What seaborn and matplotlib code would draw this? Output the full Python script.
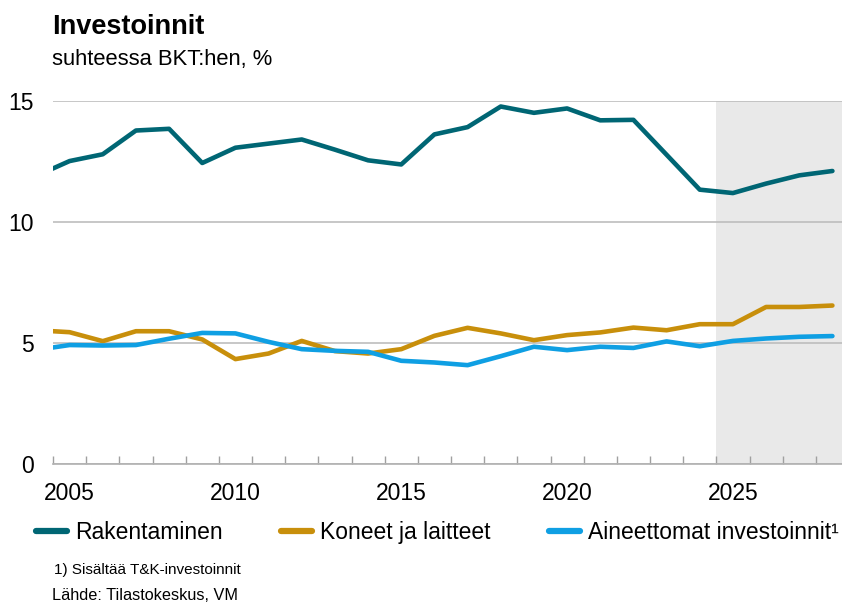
import numpy as np
import pandas as pd
import matplotlib
matplotlib.use("Agg")
import matplotlib.pyplot as plt
import seaborn as sns

# Values (% of GDP)
years = list(range(2004, 2029))
rakentaminen = [11.9, 12.51, 12.79, 13.77, 13.84, 12.43, 13.06, 13.23, 13.40, 12.98,
                12.54, 12.37, 13.61, 13.91, 14.76, 14.50, 14.68, 14.19, 14.21, 12.77,
                11.33, 11.19, 11.58, 11.92, 12.10]
koneet = [5.53, 5.45, 5.08, 5.49, 5.49, 5.15, 4.34, 4.57, 5.09, 4.67,
          4.57, 4.75, 5.30, 5.63, 5.40, 5.12, 5.33, 5.44, 5.64, 5.53,
          5.78, 5.78, 6.49, 6.49, 6.55]
aineettomat = [4.72, 4.92, 4.90, 4.92, 5.18, 5.42, 5.40, 5.05, 4.75, 4.68,
               4.64, 4.27, 4.20, 4.09, 4.46, 4.85, 4.71, 4.85, 4.80, 5.07,
               4.87, 5.09, 5.19, 5.26, 5.29]
series_names = ["Rakentaminen", "Koneet ja laitteet", "Aineettomat investoinnit\u00b9"]
colors = ["#006674", "#C88F0B", "#0F9FE3"]
forecast_start = 2025
tick_years = [2005, 2010, 2015, 2020, 2025]
y_ticks = [0, 5, 10, 15]

df = pd.DataFrame({"vuosi": years * 3,
                   "arvo": rakentaminen + koneet + aineettomat,
                   "sarja": [n for n in series_names for _ in years]})

sns.set_style("white")
plt.rcParams["font.family"] = ["Liberation Sans", "DejaVu Sans"]
plt.rcParams["text.color"] = "black"
plt.rcParams["xtick.color"] = "black"
plt.rcParams["ytick.color"] = "black"

fig = plt.figure(figsize=(8.42, 6.06), dpi=100)
ax = fig.add_axes([53 / 842, 141.7 / 606, 796 / 842, 363.6 / 606])

# forecast shading
ax.axvspan(forecast_start - 0.5, years[-1] + 0.5, color="#E9E9E9", zorder=0, lw=0)

sns.lineplot(data=df, x="vuosi", y="arvo", hue="sarja", palette=colors,
             linewidth=3.3, ax=ax, zorder=3)
for ln in ax.get_lines():
    ln.set_solid_capstyle("round")
    ln.set_solid_joinstyle("round")

ax.set_xlim(years[0] + 0.5, years[-1] + 0.5)
ax.set_ylim(0, 15)
ax.set_yticks(y_ticks)
ax.set_xticks(tick_years)
ax.set_xticks(np.arange(years[0] + 0.5, years[-1] + 1), minor=True)
ax.set_xlabel("")
ax.set_ylabel("")

for s in ["top", "right", "left"]:
    ax.spines[s].set_visible(False)
ax.spines["bottom"].set_color("#B0B0B0")
ax.spines["bottom"].set_linewidth(1.2)
ax.yaxis.grid(True, color="#BDBDBD", linewidth=1.2)
for gl in ax.get_ygridlines():
    gl.set_zorder(1)

ax.tick_params(axis="y", length=0, pad=14, labelsize=16.5, labelcolor="black")
ax.tick_params(axis="x", which="major", length=0, pad=13, labelsize=16.5,
               labelcolor="black")
ax.tick_params(axis="x", which="minor", bottom=True, direction="in", length=6,
               width=1, color="#A0A0A0")

handles, labels = ax.get_legend_handles_labels()
ax.get_legend().remove()
leg = fig.legend(handles, labels, loc="center left", bbox_to_anchor=(0.043, 0.122),
                 ncol=3, frameon=False, fontsize=16.5, handlelength=1.35,
                 handletextpad=0.35, columnspacing=2.55, borderaxespad=0,
                 borderpad=0, labelcolor="black")
for h in leg.get_lines():
    h.set_linewidth(4.5)
    h.set_solid_capstyle("round")

fig.text(52 / 842, 1 - 34 / 606, "Investoinnit", fontsize=19.5, fontweight="bold",
         va="baseline", ha="left")
fig.text(52 / 842, 1 - 65 / 606, "suhteessa BKT:hen, %", fontsize=15.8,
         va="baseline", ha="left")
fig.text(54 / 842, 1 - 574 / 606, "1) Sisältää T&K-investoinnit", fontsize=11,
         va="baseline", ha="left")
fig.text(52 / 842, 1 - 600 / 606, "Lähde: Tilastokeskus, VM", fontsize=11.7,
         va="baseline", ha="left")

fig.savefig("out.png", dpi=100)
